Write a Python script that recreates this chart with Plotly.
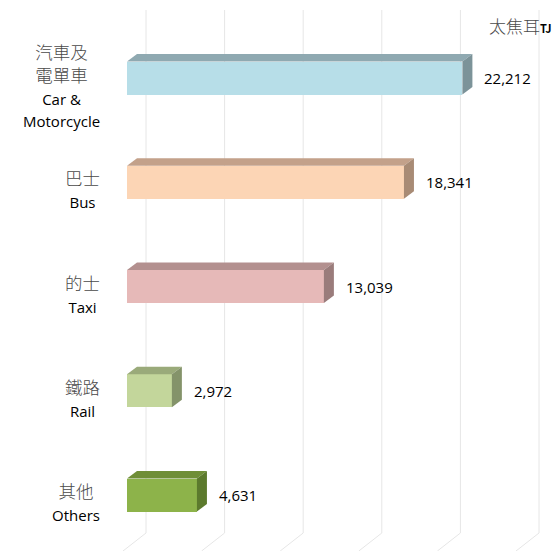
import plotly.graph_objects as go

# ---- data ----
cat_zh = ["汽車及<br>電單車", "巴士", "的士", "鐵路", "其他"]
cat_en = ["Car &amp;<br>Motorcycle", "Bus", "Taxi", "Rail", "Others"]
values = [22212, 18341, 13039, 2972, 4631]
unit_zh = "太焦耳"
unit_en = "TJ"

front_colors = ["#B7DEE8", "#FCD5B5", "#E6B9B8", "#C3D69B", "#8DB34A"]
top_colors = ["#8FA9B1", "#C3A18A", "#B3908F", "#9AAA7A", "#6F8E37"]
side_colors = ["#7C9399", "#A88B75", "#9A7C7B", "#84936A", "#5C7A2D"]

# ---- layout geometry (pixels) ----
W, H = 555, 551
ZERO_PX = 127          # pixel of value 0
K = 0.0151             # pixels per unit value
ROW0_PX = 78           # pixel centre of first category
ROW_STEP = 104.25      # pixel distance between categories
BAR_PX = 33            # bar thickness in px
DEPTH_X, DEPTH_Y = 10, 7.5  # 3D depth offsets in px

x_range = [-ZERO_PX / K, (W - ZERO_PX) / K]
y_range = [(H - ROW0_PX) / ROW_STEP, -ROW0_PX / ROW_STEP]

ypos = list(range(len(values)))
bw = BAR_PX / ROW_STEP
dxv = DEPTH_X / K
dyv = DEPTH_Y / ROW_STEP

fig = go.Figure()

# front faces
fig.add_trace(go.Bar(
    x=values, y=ypos, orientation="h", width=bw,
    marker=dict(color=front_colors, line=dict(width=0)),
    hoverinfo="skip", showlegend=False,
))

# top and side faces (computed from values)
for i, v in enumerate(values):
    yt = ypos[i] - bw / 2
    yb = ypos[i] + bw / 2
    fig.add_trace(go.Scatter(
        x=[0, v, v + dxv, dxv, 0],
        y=[yt, yt, yt - dyv, yt - dyv, yt],
        fill="toself", fillcolor=top_colors[i], mode="lines",
        line=dict(width=0, color=top_colors[i]), hoverinfo="skip", showlegend=False,
    ))
    fig.add_trace(go.Scatter(
        x=[v, v + dxv, v + dxv, v, v],
        y=[yt, yt - dyv, yb - dyv, yb, yt],
        fill="toself", fillcolor=side_colors[i], mode="lines",
        line=dict(width=0, color=side_colors[i]), hoverinfo="skip", showlegend=False,
    ))

annotations = []
# value labels
for i, v in enumerate(values):
    annotations.append(dict(
        x=v, y=ypos[i], xref="x", yref="y", text=f"{v:,}",
        xanchor="left", yanchor="middle", xshift=DEPTH_X + 10, yshift=0,
        showarrow=False, font=dict(family="Open Sans", size=15, color="#000000"),
    ))
# category labels
for i in range(len(values)):
    zh_lines = cat_zh[i].split("<br>")
    en_lines = cat_en[i].split("<br>")
    parts = [f"<span style='color:#4a4a4a;font-weight:300'>{z}</span>" for z in zh_lines]
    parts += [f"<span style='font-size:15px;color:#000'>{e}</span>" for e in en_lines]
    annotations.append(dict(
        x=102 / W, y=ypos[i], xref="paper", yref="y", text="<br>".join(parts),
        xanchor="right", yanchor="middle", align="center", yshift=-7,
        showarrow=False,
        font=dict(family="Open Sans, Noto Sans CJK TC", size=17.5, color="#000000"),
    ))
# unit label
annotations.append(dict(
    x=554 / W, y=1 - 25 / H, xref="paper", yref="paper",
    text=f"{unit_zh}<span style='font-size:11px;color:#000;font-weight:bold'>{unit_en}</span>",
    xanchor="right", yanchor="middle", showarrow=False,
    font=dict(family="Noto Sans CJK TC", size=17, color="#4a4a4a", weight=300),
))

# decorative 3D gridlines (back wall verticals + floor diagonals)
shapes = []
GRID_X0, GRID_STEP, GRID_N = 146, 78.6, 6
GRID_TOP, GRID_BOT = 10, 533
for j in range(GRID_N):
    gx = GRID_X0 + j * GRID_STEP
    shapes.append(dict(type="line", xref="paper", yref="paper", layer="below",
                       x0=gx / W, x1=gx / W, y0=1 - GRID_TOP / H, y1=1 - GRID_BOT / H,
                       line=dict(color="#E6E6E6", width=1)))
    shapes.append(dict(type="line", xref="paper", yref="paper", layer="below",
                       x0=gx / W, x1=(gx - 23) / W, y0=1 - GRID_BOT / H, y1=0,
                       line=dict(color="#E6E6E6", width=1)))

fig.update_layout(
    width=W, height=H,
    margin=dict(l=0, r=0, t=0, b=0),
    paper_bgcolor="white", plot_bgcolor="white",
    xaxis=dict(range=x_range, visible=False, fixedrange=True),
    yaxis=dict(range=y_range, visible=False, fixedrange=True),
    annotations=annotations, shapes=shapes,
    bargap=0,
)

fig.write_html(
    "out.html",
    config={"displayModeBar": False},
    post_script="document.body.style.margin='0px';document.body.style.overflow='hidden';",
)
